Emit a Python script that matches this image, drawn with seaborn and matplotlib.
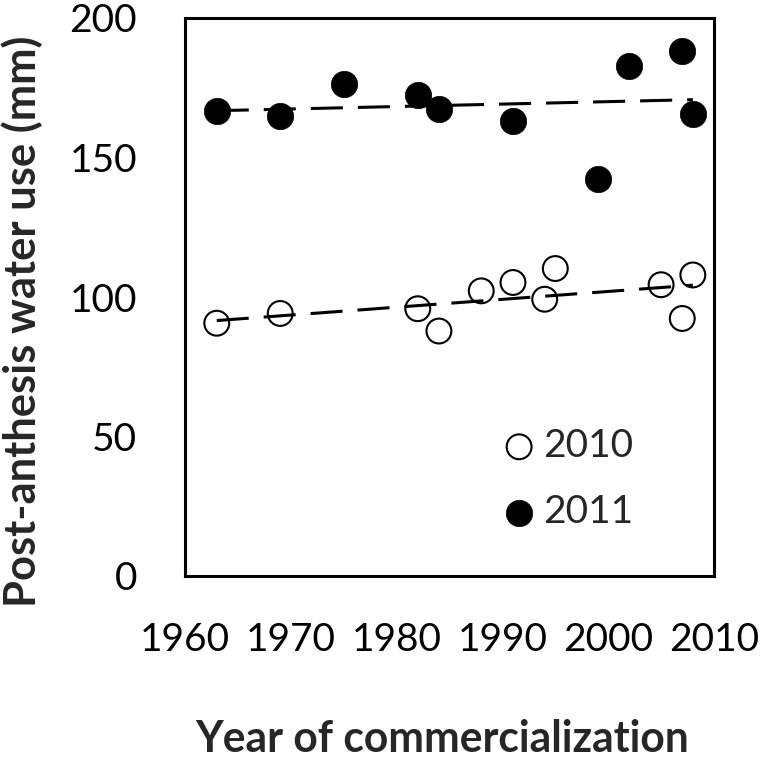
import matplotlib

matplotlib.use("Agg")
import matplotlib.pyplot as plt
import pandas as pd
import seaborn as sns

# 2010 (open circles)
years_2010 = [1963, 1969, 1982, 1984, 1988, 1991, 1994, 1995, 2005, 2007, 2008]
water_2010 = [90.6, 94.1, 95.8, 87.8, 102.2, 105.2, 99.2, 110.2, 104.4, 92.3, 107.9]

# 2011 (filled circles)
years_2011 = [1963, 1969, 1975, 1982, 1984, 1991, 1999, 2002, 2007, 2008]
water_2011 = [166.7, 164.9, 176.4, 172.4, 167.3, 163.2, 142.4, 182.9, 188.0, 165.5]

x_ticks = [1960, 1970, 1980, 1990, 2000, 2010]
y_ticks = [0, 50, 100, 150, 200]

sns.set_theme(style="white")
plt.rcParams["font.family"] = ["Lato", "DejaVu Sans"]

df10 = pd.DataFrame({"year": years_2010, "water": water_2010})
df11 = pd.DataFrame({"year": years_2011, "water": water_2011})

W, H = 764, 762
fig = plt.figure(figsize=(W / 100, H / 100), dpi=100)
ax = fig.add_axes([185 / W, 1 - 576 / H, (714 - 185) / W, (576 - 18) / H])

# 回帰直線 (破線)
dash = dict(color="black", lw=2.2, ls=(0, (10.5, 4.9)), zorder=2)
sns.regplot(data=df10, x="year", y="water", scatter=False, ci=None, ax=ax, line_kws=dash)
sns.regplot(data=df11, x="year", y="water", scatter=False, ci=None, ax=ax, line_kws=dash)

sns.scatterplot(data=df10, x="year", y="water", ax=ax, s=320, marker="o",
                facecolor="none", edgecolor="black", linewidth=1.5, label="2010", zorder=3)
sns.scatterplot(data=df11, x="year", y="water", ax=ax, s=360, marker="o",
                color="black", edgecolor="black", linewidth=0.5, label="2011", zorder=3)

ax.set_xlim(1960, 2010)
ax.set_ylim(0, 200)
ax.set_xticks(x_ticks)
ax.set_yticks(y_ticks)
ax.tick_params(axis="x", direction="in", length=9.4, width=2.2, pad=33, labelsize=28, colors="black")
ax.tick_params(axis="y", direction="in", length=9.4, width=2.2, pad=34.5, labelsize=28, colors="black")
for sp in ax.spines.values():
    sp.set_visible(True)
    sp.set_color("black")
    sp.set_linewidth(2.2)

ax.set_xlabel("Year of commercialization", fontsize=24, fontweight="bold")
ax.set_ylabel("Post-anthesis water use (mm)", fontsize=24, fontweight="bold")

# ラベルの長さを参照画像に合わせる
fig.canvas.draw()
for lab, target in [(ax.xaxis.label, 495), (ax.yaxis.label, 572)]:
    ext = lab.get_window_extent()
    length = max(ext.width, ext.height)
    lab.set_fontsize(24 * target / length)

ax.xaxis.label.set_verticalalignment("baseline")
ax.xaxis.set_label_coords((442.5 - 185) / 529, (576 - 752) / 558)
ax.yaxis.set_label_coords((43 - 185) / 529, (576 - 321) / 558)

ax.legend(loc="upper left", bbox_to_anchor=(505.5 / W, 1 - 428 / H), bbox_transform=fig.transFigure,
          frameon=False, fontsize=28, handlelength=0.7, handletextpad=0.28, labelspacing=0.77,
          borderpad=0, borderaxespad=0)

fig.savefig("out.png", dpi=100)
plt.close(fig)
